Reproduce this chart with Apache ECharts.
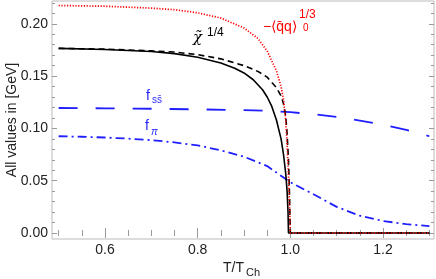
<!DOCTYPE html>
<html><head><meta charset="utf-8">
<script src="https://cdn.jsdelivr.net/npm/echarts@6/dist/echarts.min.js"></script>
<style>html,body{margin:0;padding:0;background:#fff}#c{width:436px;height:279px}</style>
</head><body><div id="c"></div>
<script>
// ---- data ----
const qqT   = [0.5,0.6,0.7,0.75,0.8,0.85,0.9,0.93,0.95,0.97,0.98,0.985,0.99,0.993,0.996,0.998,0.9995,1.0,1.3];
const qqV   = [0.2175,0.2168,0.2150,0.2135,0.2105,0.2055,0.196,0.186,0.174,0.155,0.140,0.128,0.108,0.085,0.055,0.030,0.010,0,0];
const chiDT = [0.5,0.6,0.7,0.75,0.8,0.85,0.9,0.93,0.95,0.97,0.98,0.985,0.99,0.993,0.996,0.998,1.0,1.3];
const chiDV = [0.1765,0.1758,0.1742,0.1730,0.1705,0.1665,0.160,0.1545,0.149,0.139,0.131,0.124,0.112,0.095,0.070,0.040,0,0];
const chiST = [0.5,0.6,0.7,0.75,0.8,0.85,0.88,0.9,0.92,0.94,0.95,0.96,0.97,0.98,0.985,0.99,0.993,0.995,0.996,1.3];
const chiSV = [0.1765,0.1755,0.1735,0.1715,0.168,0.1625,0.1575,0.153,0.1465,0.137,0.130,0.121,0.108,0.090,0.076,0.057,0.040,0.020,0,0];
const fssT  = [0.5,0.6,0.7,0.8,0.9,0.95,1.0,1.05,1.1,1.15,1.2,1.25,1.3];
const fssV  = [0.1195,0.1192,0.1188,0.1182,0.1175,0.1168,0.1155,0.1135,0.111,0.1075,0.1035,0.0985,0.0925];
const fpiT  = [0.5,0.55,0.6,0.65,0.7,0.75,0.8,0.85,0.9,0.95,1.0,1.05,1.1,1.15,1.2,1.25,1.3];
const fpiV  = [0.0925,0.0920,0.0913,0.0902,0.0888,0.0866,0.0838,0.079,0.073,0.064,0.0485,0.037,0.025,0.0165,0.0115,0.0085,0.0065];
const xMajor = [0.6,0.8,1.0,1.2];
const xMinor = [0.5,0.55,0.65,0.7,0.75,0.85,0.9,0.95,1.05,1.1,1.15,1.25,1.3];
const yMajor = [0,0.05,0.10,0.15,0.20];
const yMinor = [0.01,0.02,0.03,0.04,0.06,0.07,0.08,0.09,0.11,0.12,0.13,0.14,0.16,0.17,0.18,0.19,0.21,0.22];

const pairs = (t,v) => t.map((x,i)=>[x,v[i]]);
const XMIN=0.4857, XMAX=1.310, YMIN=-0.00574, YMAX=0.2218;
const tickC = '#999';
const font = '"Liberation Sans", Arial, sans-serif';
const blue = '#1f1fff';

function xa(pos, vals, len, labels){
  return {type:'value', min:XMIN, max:XMAX, position:pos, splitLine:{show:false}, axisLine:{show:false},
    axisTick:{show:true, inside:true, length:len, customValues:vals, lineStyle:{color:tickC,width:1}},
    axisLabel: labels ? {show:true, customValues:xMajor, formatter:v=>v.toFixed(1), fontSize:14, color:'#222', fontFamily:font, margin:4} : {show:false}};
}
function ya(pos, vals, len, labels){
  return {type:'value', min:YMIN, max:YMAX, position:pos, splitLine:{show:false}, axisLine:{show:false},
    axisTick:{show:true, inside:true, length:len, customValues:vals, lineStyle:{color:tickC,width:1}},
    axisLabel: labels ? {show:true, customValues:yMajor, formatter:v=>v.toFixed(2), fontSize:14, color:'#222', fontFamily:font, margin:4} : {show:false}};
}
function ln(data, color, type, width, z){
  return {type:'line', data, xAxisIndex:0, yAxisIndex:0, symbol:'none', animation:false, z,
    lineStyle:{color, type, width}};
}
const chart = echarts.init(document.getElementById('c'), null, {renderer:'canvas'});
chart.setOption({
  animation:false,
  grid:{left:52, right:2, top:1, bottom:40, show:true, borderColor:'#bbbbbb', borderWidth:1, containLabel:false},
  xAxis:[xa('bottom',xMajor,5,true), xa('bottom',xMinor,3,false), xa('top',xMajor,5,false), xa('top',xMinor,3,false)],
  yAxis:[ya('left',yMajor,5,true), ya('left',yMinor,3,false), ya('right',yMajor,5,false), ya('right',yMinor,3,false)],
  series:[
    ln(pairs(fssT,fssV), blue, [19,18], 1.8, 2),
    ln(pairs(fpiT,fpiV), blue, [9,4,2,4], 1.8, 2),
    ln(pairs(chiDT,chiDV), '#000', [6,4], 1.6, 3),
    ln(pairs(chiST,chiSV), '#000', 'solid', 1.6, 3),
    ln(pairs(qqT,qqV), '#ff0000', [1.2,1.6], 1.7, 4)
  ],
  graphic:[
    {type:'text', left:263, top:20, style:{text:'−⟨q\u0304q⟩', font:'14px '+font, fill:'#ff0000'}},
    {type:'text', left:303, top:23, style:{text:'0', font:'10px '+font, fill:'#ff0000'}},
    {type:'text', left:299, top:9, style:{text:'1/3', font:'12px '+font, fill:'#ff0000'}},
    {type:'text', left:193, top:31, style:{text:'χ\u0303', font:'italic 15px "DejaVu Serif", serif', fill:'#000'}},
    {type:'text', left:207, top:27, style:{text:'1/4', font:'12px '+font, fill:'#000'}},
    {type:'text', left:146, top:89, style:{text:'f', font:'14px '+font, fill:blue}},
    {type:'text', left:152, top:95, style:{text:'ss\u0304', font:'10px '+font, fill:blue}},
    {type:'text', left:145, top:119, style:{text:'f', font:'14px '+font, fill:blue}},
    {type:'text', left:151, top:127, style:{text:'π', font:'italic 10px '+font, fill:blue}},
    {type:'text', left:223, top:261, style:{text:'T/T', font:'14px '+font, fill:'#222'}},
    {type:'text', left:246, top:267, style:{text:'Ch', font:'11px '+font, fill:'#222'}},
    {type:'text', x:12, y:120, rotation:Math.PI/2, style:{text:'All values in [GeV]', font:'14px '+font, fill:'#222', align:'center', verticalAlign:'middle'}}
  ]
});
</script></body></html>
